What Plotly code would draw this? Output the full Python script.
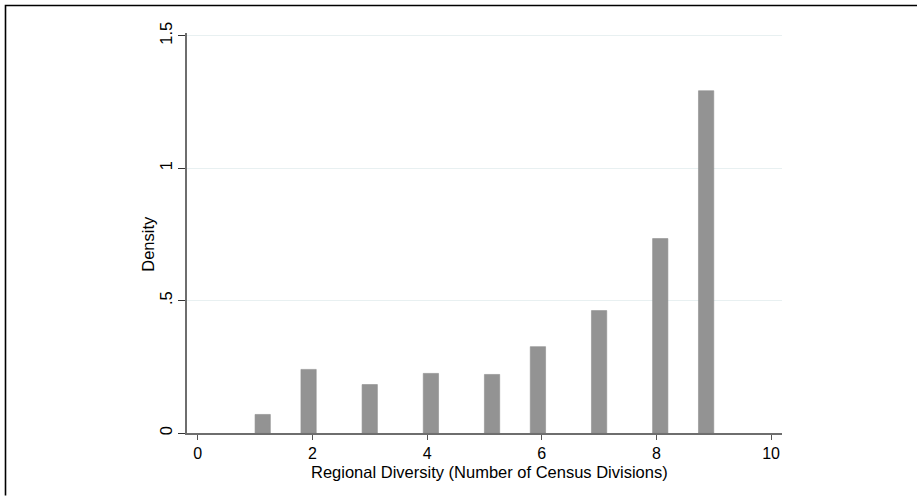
import numpy as np
import plotly.graph_objects as go

# Number of census divisions spanned (1..9) and histogram densities
divisions = [1, 2, 3, 4, 5, 6, 7, 8, 9]
density = [0.070, 0.240, 0.183, 0.225, 0.221, 0.326, 0.462, 0.734, 1.292]

# Histogram binning: 30 equal bins over [1, 9]
n_bins = 30
lo, hi = 1, 9
bin_w = (hi - lo) / n_bins
bin_idx = [min(int(np.floor((v - lo) / bin_w + 1e-9)), n_bins - 1) for v in divisions]
centers = [lo + (i + 0.5) * bin_w for i in bin_idx]

x_ticks = [0, 2, 4, 6, 8, 10]
y_ticks = [0, 0.5, 1, 1.5]
y_ticktext = ["0", ".5", "1", "1.5"]

W, H = 917, 496
ml, mr, mt, mb = 187, 135, 33, 62.5
pw, ph = W - ml - mr, H - mt - mb

FONT = "Liberation Sans, Arial, Helvetica, sans-serif"
FS = 16.5
TICK_FS = 16

fig = go.Figure(go.Bar(
    x=centers, y=density, width=bin_w,
    marker=dict(color="#939393", line=dict(color="#8f8f8f", width=0.6)),
))

fig.update_layout(
    width=W, height=H,
    margin=dict(l=ml, r=mr, t=mt, b=mb, pad=0),
    paper_bgcolor="white", plot_bgcolor="white",
    showlegend=False,
    font=dict(family=FONT, size=FS, color="black"),
    xaxis=dict(
        range=[-0.187, 10.19], tickvals=x_ticks, ticks="outside", ticklen=5,
        tickwidth=1.3, tickcolor="#555555", showline=True, linecolor="#6e6e6e",
        linewidth=1.6, showgrid=False, zeroline=False, ticklabelstandoff=0,
        tickfont=dict(size=TICK_FS, family=FONT), fixedrange=True,
    ),
    yaxis=dict(
        range=[0, 1.51], tickvals=y_ticks, ticktext=y_ticktext, tickangle=-90,
        ticks="outside", ticklen=7, tickwidth=1.3, tickcolor="#333333",
        showline=True, linecolor="#6e6e6e", linewidth=1.6,
        showgrid=True, gridcolor="#e8f0f1", gridwidth=1, zeroline=False,
        tickfont=dict(size=FS, family=FONT), fixedrange=True,
    ),
    annotations=[
        dict(text="Regional Diversity (Number of Census Divisions)",
             xref="paper", yref="paper", x=(489.5 - ml) / pw, y=-(473 - (H - mb)) / ph,
             xanchor="center", yanchor="middle", showarrow=False,
             font=dict(size=FS, family=FONT)),
        dict(text="Density", textangle=-90,
             xref="paper", yref="paper", x=(148 - ml) / pw, y=((H - mb) - 244) / ph,
             xanchor="center", yanchor="middle", showarrow=False,
             font=dict(size=FS, family=FONT)),
    ],
    shapes=[
        # outer frame (top and left edges)
        dict(type="path", xref="paper", yref="paper",
             path="M {x0},{y0} L {x1},{y1} L {x2},{y2}".format(
                 x0=(5.5 - ml) / pw, y0=(H - mb - H) / ph,
                 x1=(5.5 - ml) / pw, y1=(H - mb - 5.5) / ph,
                 x2=(W - ml) / pw, y2=(H - mb - 5.5) / ph),
             line=dict(color="black", width=1.6)),
    ],
)

fig.write_html("out.html")
